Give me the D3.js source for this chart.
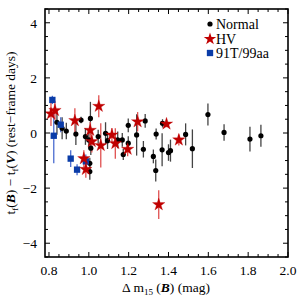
<!DOCTYPE html>
<html><head><meta charset="utf-8">
<script src="https://cdn.jsdelivr.net/npm/d3@7"></script>
<style>body{margin:0;background:#fff}svg{display:block}</style>
</head><body><svg id="c" width="300" height="300" font-family="'Liberation Serif','Times New Roman','DejaVu Serif',serif"></svg>
<script>
const normalX = [0.84,0.866,0.887,0.935,0.961,0.983,1.0,1.008,1.01,1.005,1.005,1.047,1.084,1.094,1.145,1.168,1.173,1.198,1.198,1.24,1.283,1.274,1.324,1.338,1.336,1.37,1.368,1.40,1.41,1.486,1.52,1.598,1.679,1.809,1.864];
const normalY = [0.39,0.17,0.07,-0.04,0.47,-0.13,-0.25,0.53,-0.55,-1.1,-1.4,-0.13,-0.01,-0.28,-0.25,-0.25,-0.78,0.28,-0.37,-0.07,0.44,-0.59,-0.85,-0.04,-1.36,0.35,-0.61,-0.71,-0.64,-0.05,-0.57,0.67,0.02,-0.22,-0.1];
const normalE = [0.45,0.4,0.3,0.4,0.12,0.3,0.3,0.6,0.25,0.2,0.3,0.25,0.4,0.3,0.3,0.25,0.2,0.25,0.25,0.75,0.25,0.3,0.25,0.2,0.4,0.15,0.6,0.3,0.4,0.4,0.7,0.4,0.3,0.45,0.4];
const hvX = [0.81,0.83,0.93,1.05,1.007,1.015,0.975,0.985,1.06,1.116,1.133,1.195,1.245,1.39,1.452,1.351];
const hvY = [0.70,0.82,0.45,0.97,0.10,-0.31,-0.93,-1.32,-0.45,-0.07,-0.38,-0.59,0.41,0.33,-0.25,-2.6];
const hvE = [0.45,0.35,0.45,0.4,0.3,0.4,0.3,0.3,0.8,0.25,0.55,0.25,0.35,0.12,0.2,0.52];
const t91X = [0.817,0.824,0.859,0.909,0.941,0.985];
const t91Y = [1.2,-0.1,0.3,-0.93,-1.33,-1.03];
const t91E = [0.15,1.0,0.27,0.3,0.2,0.25];
const xTicks = [0.8,1.0,1.2,1.4,1.6,1.8,2.0];
const yTicks = [-4,-2,0,2,4];
const legendLabels = ["Normal","HV","91T/99aa"];

const svg = d3.select("#c");
const L=45,R=288,T=9,B=257;
const x = d3.scaleLinear().domain([0.78,2.0]).range([L,R]);
const y = d3.scaleLinear().domain([-4.5,4.5]).range([B,T]);

const mk = (xs,ys,es)=>xs.map((v,i)=>({x:v,y:ys[i],e:es[i]}));
const normal=mk(normalX,normalY,normalE), hv=mk(hvX,hvY,hvE), t91=mk(t91X,t91Y,t91E);

const xMinor = d3.range(0.8,2.001,0.05);
const yMinor = d3.range(-4.5,4.501,0.5);
const g = svg.append("g").attr("stroke","#000").attr("stroke-width",1);
xMinor.forEach(v=>{
  const major = xTicks.some(t=>Math.abs(t-v)<1e-6);
  const len = major?5:3;
  g.append("line").attr("x1",x(v)).attr("x2",x(v)).attr("y1",B).attr("y2",B-len);
  g.append("line").attr("x1",x(v)).attr("x2",x(v)).attr("y1",T).attr("y2",T+len);
});
yMinor.forEach(v=>{
  const major = yTicks.some(t=>Math.abs(t-v)<1e-6);
  const len = major?5:3;
  g.append("line").attr("y1",y(v)).attr("y2",y(v)).attr("x1",L).attr("x2",L+len);
  g.append("line").attr("y1",y(v)).attr("y2",y(v)).attr("x1",R).attr("x2",R-len);
});
svg.append("g").selectAll("text").data(xTicks).join("text")
  .attr("x",d=>x(d)).attr("y",B+18).attr("text-anchor","middle").attr("font-size",13.5).text(d=>d.toFixed(1));
svg.append("g").selectAll("text").data(yTicks).join("text")
  .attr("x",L-8).attr("y",d=>y(d)+4.8).attr("text-anchor","end").attr("font-size",13.5).text(d=>d<0?"\u2212"+Math.abs(d):d);

function bars(data,color){
  svg.append("g").selectAll("line").data(data).join("line")
    .attr("x1",d=>x(d.x)).attr("x2",d=>x(d.x)).attr("y1",d=>y(d.y+d.e)).attr("y2",d=>y(d.y-d.e))
    .attr("stroke",color).attr("stroke-width",1.3);
}
bars(normal,"#444");
bars(t91,"#4a6cd0");
bars(hv,"#e05050");

svg.append("g").selectAll("circle").data(normal).join("circle")
  .attr("cx",d=>x(d.x)).attr("cy",d=>y(d.y)).attr("r",2.6).attr("fill","#000");
svg.append("g").selectAll("path").data(t91).join("path")
  .attr("transform",d=>`translate(${x(d.x)},${y(d.y)})`).attr("d",d3.symbol(d3.symbolSquare,40)()).attr("fill","#0a3ca8");
svg.append("g").selectAll("path").data(hv).join("path")
  .attr("transform",d=>`translate(${x(d.x)},${y(d.y)})`).attr("d",d3.symbol(d3.symbolStar,48)()).attr("fill","#c00000").attr("stroke","#c00000").attr("stroke-width",0.3);

svg.append("rect").attr("x",L).attr("y",T).attr("width",R-L).attr("height",B-T).attr("fill","none").attr("stroke","#000").attr("stroke-width",1.6);

const lg = svg.append("g");
const ly=[24,39,53];
lg.append("circle").attr("cx",210).attr("cy",ly[0]).attr("r",2.6).attr("fill","#000");
lg.append("path").attr("transform",`translate(210,${ly[1]})`).attr("d",d3.symbol(d3.symbolStar,48)()).attr("fill","#c00000");
lg.append("path").attr("transform",`translate(210,${ly[2]})`).attr("d",d3.symbol(d3.symbolSquare,40)()).attr("fill","#0a3ca8");
lg.selectAll("text").data(legendLabels).join("text").attr("x",216).attr("y",(d,i)=>ly[i]+5).attr("font-size",14).text(d=>d);

const xl = svg.append("text").attr("x",166).attr("y",292).attr("text-anchor","middle").attr("font-size",13.5);
xl.append("tspan").text("\u0394 m");
xl.append("tspan").attr("font-size",9).attr("dy",3).text("15");
xl.append("tspan").attr("dy",-3).text(" (");
xl.append("tspan").attr("font-weight","bold").attr("font-style","italic").text("B");
xl.append("tspan").text(") (mag)");

const yl = svg.append("text").attr("transform",`translate(15,${(T+B)/2}) rotate(-90)`).attr("text-anchor","middle").attr("font-size",13.5);
yl.append("tspan").text("t");
yl.append("tspan").attr("font-size",9).attr("dy",3).text("f");
yl.append("tspan").attr("dy",-3).text("(");
yl.append("tspan").attr("font-weight","bold").attr("font-style","italic").text("B");
yl.append("tspan").text(") \u2212 t");
yl.append("tspan").attr("font-size",9).attr("dy",3).text("f");
yl.append("tspan").attr("dy",-3).text("(");
yl.append("tspan").attr("font-weight","bold").attr("font-style","italic").text("V");
yl.append("tspan").text(") (rest\u2212frame days)");
</script></body></html>
